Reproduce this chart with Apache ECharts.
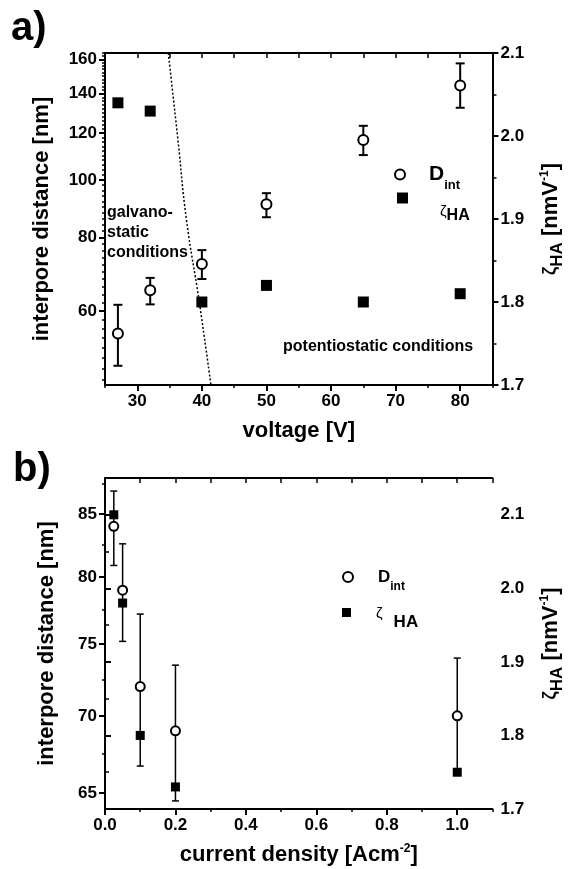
<!DOCTYPE html>
<html>
<head>
<meta charset="utf-8">
<script src="https://cdn.jsdelivr.net/npm/echarts@6/dist/echarts.min.js"></script>
<style>
  html, body { margin: 0; padding: 0; background: #fff; }
  #chart { width: 574px; height: 869px; }
</style>
</head>
<body>
<div id="chart"></div>
<script>
// a) interpore distance and zeta vs voltage
var voltage = [27, 32, 40, 50, 65, 80];
var dintA = [55.0, 65.1, 72.1, 91.0, 116.9, 144.5];
var dintALow = [48.5, 61.6, 68.0, 86.5, 110.2, 132.5];
var dintAHigh = [61.5, 68.3, 76.1, 95.0, 123.5, 157.5];
var zetaA = [2.04, 2.03, 1.80, 1.82, 1.80, 1.81];
// dotted boundary between galvanostatic and potentiostatic regime
var boundaryV = [34.8, 36.3, 37.6, 39.6, 41.4];
var boundaryZ = [2.1, 1.995, 1.9, 1.8, 1.7];
var voltTicks = [30, 40, 50, 60, 70, 80];
var dintATicks = [60, 80, 100, 120, 140, 160];

// b) interpore distance and zeta vs current density
var current = [0.025, 0.05, 0.1, 0.2, 1.0];
var dintB = [84, 79, 72, 69, 70];
var dintBLow = [80.9, 75.2, 66.7, 64.5, 66.2];
var dintBHigh = [86.9, 82.6, 77.2, 73.5, 74.0];
var zetaB = [2.10, 1.98, 1.80, 1.73, 1.75];
var currentTicks = [0, 0.2, 0.4, 0.6, 0.8, 1.0];
var dintBTicks = [65, 70, 75, 80, 85];

var FONT = '"Liberation Sans", Arial, sans-serif';
var lg = Math.log10;

// minor ticks of the log axes
var minorA = [];
for (var m = 46; m <= 164; m += 2) minorA.push(m);
var minorB = [67.5, 72.5, 77.5, 82.5, 87.5];

var tickFont = { color: '#000', fontFamily: FONT, fontSize: 17, fontWeight: 'bold' };
var line2 = { lineStyle: { color: '#000', width: 2 } };

function nameStyle(extra) {
  var s = { color: '#000', fontFamily: FONT, fontSize: 22, fontWeight: 'bold', lineHeight: 22 };
  for (var k in extra) s[k] = extra[k];
  return s;
}

var zetaName = '{z|ζ}{h|HA} [nmV{p|-1}]';
var zetaRich = {
  z: { fontFamily: FONT, fontSize: 18, lineHeight: 18, color: '#000' },
  h: { fontFamily: FONT, fontSize: 17, fontWeight: 'bold', lineHeight: 17, padding: [14, 0, 0, 0], color: '#000' },
  p: { fontFamily: FONT, fontSize: 12, fontWeight: 'bold', lineHeight: 12, padding: [0, 0, 12, 0], color: '#000' }
};

function errorBars(width, cap) {
  return function (params, api) {
    var x = api.value(0);
    var lo = api.coord([x, api.value(1)]);
    var hi = api.coord([x, api.value(2)]);
    var st = { stroke: '#000', lineWidth: width };
    return {
      type: 'group',
      children: [
        { type: 'line', shape: { x1: lo[0], y1: lo[1], x2: hi[0], y2: hi[1] }, style: st },
        { type: 'line', shape: { x1: lo[0] - cap, y1: lo[1], x2: lo[0] + cap, y2: lo[1] }, style: st },
        { type: 'line', shape: { x1: hi[0] - cap, y1: hi[1], x2: hi[0] + cap, y2: hi[1] }, style: st }
      ]
    };
  };
}

// main x axis: labels + major ticks
function mainX(grid, min, max, ticks, fmt, name) {
  return {
    gridIndex: grid, type: 'value', position: 'bottom', min: min, max: max,
    axisLine: line2,
    axisTick: { customValues: ticks, length: 6, lineStyle: { color: '#000', width: 2 } },
    axisLabel: Object.assign({ customValues: ticks, margin: 8, formatter: fmt }, tickFont),
    splitLine: { show: false },
    name: name, nameLocation: 'middle', nameGap: 35,
    nameTextStyle: nameStyle({ rich: { p: { fontFamily: FONT, fontSize: 12, fontWeight: 'bold', lineHeight: 12, padding: [0, 0, 12, 0], color: '#000' } } })
  };
}
// overlay x axis holding only minor ticks
function minorX(grid, min, max, step) {
  return {
    gridIndex: grid, type: 'value', position: 'bottom', min: min, max: max, interval: step,
    axisLine: { show: false }, axisLabel: { show: false }, splitLine: { show: false },
    axisTick: { length: 3, lineStyle: { color: '#000', width: 1.5 } }
  };
}
// mirrored top frame with inward ticks
function topX(grid, min, max, step) {
  return {
    gridIndex: grid, type: 'value', position: 'top', min: min, max: max, interval: step,
    axisLine: line2, axisLabel: { show: false }, splitLine: { show: false },
    axisTick: { inside: true, length: 5, lineStyle: { color: '#000', width: 1.5 } }
  };
}
// log-scaled left axis (values given as log10)
function logY(grid, min, max, ticks, gap) {
  var t = ticks.map(lg);
  return {
    gridIndex: grid, type: 'value', position: 'left', min: lg(min), max: lg(max),
    axisLine: line2,
    axisTick: { customValues: t, length: 6, lineStyle: { color: '#000', width: 2 } },
    axisLabel: Object.assign({ customValues: t, margin: 8, formatter: function (v) { return String(Math.round(Math.pow(10, v))); } }, tickFont),
    splitLine: { show: false },
    name: 'interpore distance [nm]', nameLocation: 'middle', nameGap: gap,
    nameTextStyle: nameStyle({})
  };
}
function logMinorY(grid, min, max, ticks) {
  return {
    gridIndex: grid, type: 'value', position: 'left', min: lg(min), max: lg(max),
    axisLine: { show: false }, axisLabel: { show: false }, splitLine: { show: false },
    axisTick: { customValues: ticks.map(lg), length: 3, lineStyle: { color: '#000', width: 1.5 } }
  };
}
function zetaY(grid, max) {
  return {
    gridIndex: grid, type: 'value', position: 'right', min: 1.7, max: max, interval: 0.1,
    axisLine: line2,
    axisTick: { length: 6, lineStyle: { color: '#000', width: 2 } },
    minorTick: { show: true, splitNumber: 2, length: 4, lineStyle: { color: '#000', width: 1.5 } },
    axisLabel: Object.assign({ margin: 8, showMaxLabel: max === 2.1, formatter: function (v) { return v.toFixed(1); } }, tickFont),
    splitLine: { show: false }, minorSplitLine: { show: false },
    name: zetaName, nameLocation: 'middle', nameGap: 40,
    nameTextStyle: nameStyle({ rich: zetaRich })
  };
}

function legendItem(name, left, top, size, item, fmt, rich) {
  return {
    data: [name], left: left, top: top, padding: 0, itemWidth: size, itemHeight: size,
    selectedMode: false, itemStyle: item, formatter: function () { return fmt; },
    textStyle: { color: '#000', fontFamily: FONT, rich: rich }
  };
}
var openItem = { color: '#fff', borderColor: '#000', borderWidth: 2 };
var fullItem = { color: '#000', borderWidth: 0 };

var myChart = echarts.init(document.getElementById('chart'));
var option = {
  backgroundColor: '#fff',
  animation: false,
  grid: [
    { left: 105, top: 53, width: 393, height: 332 },
    { left: 105, top: 478, width: 393, height: 331 }
  ],
  xAxis: [
    mainX(0, 25, 85, voltTicks, function (v) { return String(v); }, 'voltage [V]'),
    minorX(0, 25, 85, 5),
    topX(0, 25, 85, 5),
    mainX(1, 0, 1.1, currentTicks, function (v) { return v.toFixed(1); }, 'current density [Acm{p|-2}]'),
    minorX(1, 0, 1.1, 0.1),
    topX(1, 0, 1.1, 0.1)
  ],
  yAxis: [
    logY(0, 45, 164, dintATicks, 52),
    logMinorY(0, 45, 164, minorA),
    zetaY(0, 2.1),
    logY(1, 64, 88, dintBTicks, 47),
    logMinorY(1, 64, 88, minorB),
    zetaY(1, 2.15)
  ],
  legend: [
    legendItem('Dint', 394, 157, 10, openItem, '{d|D}{s|int}', {
      d: { fontSize: 21, fontWeight: 'bold', lineHeight: 21, padding: [0, 0, 0, 19] },
      s: { fontSize: 13, fontWeight: 'bold', lineHeight: 13, padding: [22, 0, 0, 0] }
    }),
    legendItem('zeta', 397, 172, 11, fullItem, '{z|ζ}{h|HA}', {
      z: { fontSize: 15, lineHeight: 15, padding: [28, 0, 0, 27] },
      h: { fontSize: 16, fontWeight: 'bold', lineHeight: 16, padding: [36, 0, 0, 0] }
    }),
    legendItem('Dint', 342, 561, 10, openItem, '{d|D}{s|int}', {
      d: { fontSize: 17, fontWeight: 'bold', lineHeight: 17, padding: [0, 0, 0, 20] },
      s: { fontSize: 12, fontWeight: 'bold', lineHeight: 12, padding: [20, 0, 0, 0] }
    }),
    legendItem('zeta', 342, 594, 9, fullItem, '{z|ζ}{h|HA}', {
      z: { fontSize: 15, lineHeight: 15, padding: [2, 0, 0, 20] },
      h: { fontSize: 17, fontWeight: 'bold', lineHeight: 17, padding: [20, 0, 0, 11] }
    })
  ],
  graphic: [
    { type: 'text', left: 11, top: 9, style: { text: 'a)', font: 'bold 40px ' + FONT, fill: '#000' } },
    { type: 'text', left: 13, top: 450, style: { text: 'b)', font: 'bold 40px ' + FONT, fill: '#000' } },
    { type: 'text', left: 107, top: 203, style: { text: 'galvano-\nstatic\nconditions', font: 'bold 16px ' + FONT, lineHeight: 20, fill: '#000' } },
    { type: 'text', left: 283, top: 337, style: { text: 'potentiostatic conditions', font: 'bold 16px ' + FONT, lineHeight: 20, fill: '#000' } }
  ],
  series: [
    {
      type: 'custom', name: 'errA', xAxisIndex: 0, yAxisIndex: 0, silent: true, z: 2,
      renderItem: errorBars(2, 4.5), encode: { x: 0, y: [1, 2] },
      data: voltage.map(function (v, i) { return [v, lg(dintALow[i]), lg(dintAHigh[i])]; })
    },
    {
      type: 'scatter', name: 'Dint', xAxisIndex: 0, yAxisIndex: 0, z: 4,
      symbol: 'circle', symbolSize: 10, itemStyle: { color: '#fff', borderColor: '#000', borderWidth: 2, opacity: 1 },
      data: voltage.map(function (v, i) { return [v, lg(dintA[i])]; })
    },
    {
      type: 'scatter', name: 'zeta', xAxisIndex: 0, yAxisIndex: 2, z: 3,
      symbol: 'rect', symbolSize: 11, itemStyle: { color: '#000', opacity: 1 },
      data: voltage.map(function (v, i) { return [v, zetaA[i]]; })
    },
    {
      type: 'line', name: 'boundary', xAxisIndex: 0, yAxisIndex: 2, smooth: true, symbol: 'none', silent: true,
      lineStyle: { color: '#000', width: 1.5, type: [2, 2] },
      data: boundaryV.map(function (v, i) { return [v, boundaryZ[i]]; })
    },
    {
      type: 'custom', name: 'errB', xAxisIndex: 3, yAxisIndex: 3, silent: true, z: 2,
      renderItem: errorBars(1.5, 3.5), encode: { x: 0, y: [1, 2] },
      data: current.map(function (v, i) { return [v, lg(dintBLow[i]), lg(dintBHigh[i])]; })
    },
    {
      type: 'scatter', name: 'zeta', xAxisIndex: 3, yAxisIndex: 5, z: 3,
      symbol: 'rect', symbolSize: 9, itemStyle: { color: '#000', opacity: 1 },
      data: current.map(function (v, i) { return [v, zetaB[i]]; })
    },
    {
      type: 'scatter', name: 'Dint', xAxisIndex: 3, yAxisIndex: 3, z: 4,
      symbol: 'circle', symbolSize: 9, itemStyle: { color: '#fff', borderColor: '#000', borderWidth: 2, opacity: 1 },
      data: current.map(function (v, i) { return [v, lg(dintB[i])]; })
    }
  ]
};
myChart.setOption(option);
</script>
</body>
</html>
